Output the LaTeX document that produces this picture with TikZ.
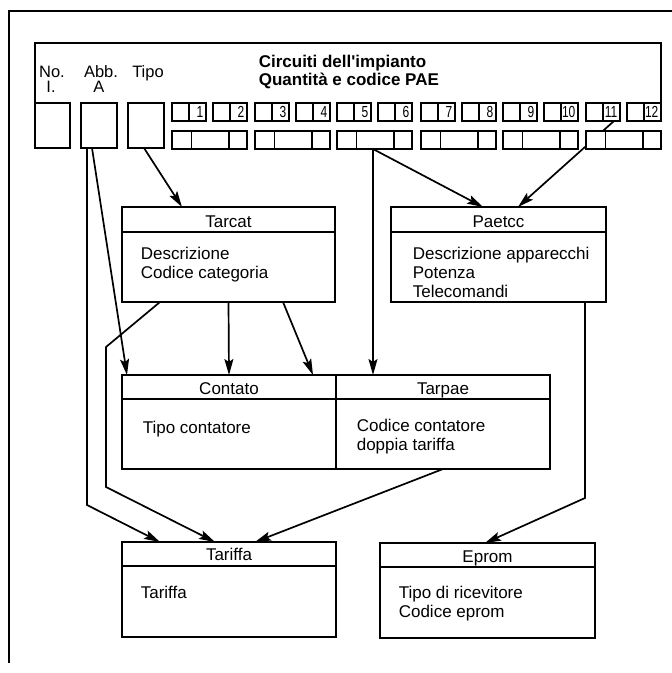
\documentclass[tikz,border=0pt]{standalone}
\usepackage{fontspec}
\setmainfont{Liberation Sans}
\newfontfamily\hv{Liberation Sans}
\usetikzlibrary{arrows.meta,calc}
\begin{document}
\begin{tikzpicture}[x=1pt,y=-1pt, line width=1.6pt,
  box/.style={draw, anchor=north west, inner sep=0pt, outer sep=0pt},
  lbl/.style={anchor=base west, inner sep=0pt, font=\fontsize{17}{19}\selectfont},
  ttl/.style={anchor=base, inner sep=0pt, font=\fontsize{17}{19}\selectfont},
  hdr/.style={anchor=base, inner sep=0pt, font=\fontsize{16.5}{16}\selectfont},
  num/.style={anchor=base east, inner sep=0pt, font=\fontsize{16}{16}\selectfont},
  arr/.style={-{Stealth[length=16pt,width=9pt,inset=3pt]}, line width=1.7pt}
]
\useasboundingbox (0,0) rectangle (672,673);
% outer frame (page)
\draw[line width=1.3pt] (9,663) -- (9,11) -- (672,11);

% left boxes
\node[box, minimum width=35pt, minimum height=45pt] (no) at (35,103) {};
\node[box, minimum width=36pt, minimum height=45pt] (abb) at (81,103) {};
\node[box, minimum width=36pt, minimum height=45pt] (tipo) at (128,103) {};

% upper numbered boxes
\foreach \s [count=\k from 0] in {172,255,337,421,503,586} {
  \pgfmathtruncatemacro\a{2*\k+1}
  \pgfmathtruncatemacro\b{2*\k+2}
  \node[box, minimum width=17pt, minimum height=18pt] (e\a) at (\s,103) {};
  \node[box, minimum width=17pt, minimum height=18pt] (n\a) at (\s+17,103) {};
  \node[box, minimum width=17pt, minimum height=18pt] (e\b) at (\s+41,103) {};
  \node[box, minimum width=17pt, minimum height=18pt] (n\b) at (\s+58,103) {};
  \node[num] at ($(n\a.south east)+(-1.8,-4)$) {\scalebox{0.75}[1]{\a}};
  \node[num] at ($(n\b.south east)+(-1.8,-4)$) {\scalebox{0.75}[1]{\b}};
}

% header frame
\draw (no.north west) -- ++(0,-60) -| (n12.north east);
\node[hdr] at (52,77) {No.};
\node[hdr] at (51,92) {I.};
\node[hdr] at (101,77) {Abb.};
\node[hdr] at (99,92) {A};
\node[hdr] at (148,77) {Tipo};
\node[anchor=base west, inner sep=0pt, font=\hv\bfseries\fontsize{17}{18}\selectfont] at (258,67) {Circuiti dell'impianto};
\node[anchor=base west, inner sep=0pt, font=\hv\bfseries\fontsize{17}{18}\selectfont] at (258,85) {Quantità e codice PAE};

% tables
\node[box, minimum width=213pt, minimum height=95pt] (tarcat) at (122,207) {};
\draw (tarcat.north west) ++(0,25) -- ++(213,0);
\node[ttl] at ($(tarcat.north)+(0,20)$) {Tarcat};
\node[lbl] at (140,259) {Descrizione};
\node[lbl] at (140,278) {Codice categoria};

\node[box, minimum width=215pt, minimum height=95pt] (paetcc) at (391,207) {};
\draw (paetcc.north west) ++(0,25) -- ++(215,0);
\node[ttl] at ($(paetcc.north)+(0,20)$) {Paetcc};
\node[lbl] at (412,259) {Descrizione apparecchi};
\node[lbl] at (412,278) {Potenza};
\node[lbl] at (412,297) {Telecomandi};

\node[box, minimum width=214pt, minimum height=94pt] (contato) at (122,375) {};
\node[box, minimum width=214pt, minimum height=94pt] (tarpae) at (336,375) {};
\draw (contato.north west) ++(0,24) -- ++(428,0);
\node[ttl] at ($(contato.north)+(0,19)$) {Contato};
\node[ttl] at ($(tarpae.north)+(0,19)$) {Tarpae};
\node[lbl] at (142,433) {Tipo contatore};
\node[lbl] at (356,431) {Codice contatore};
\node[lbl] at (356,450) {doppia tariffa};

\node[box, minimum width=214pt, minimum height=95pt] (tariffa) at (122,542) {};
\draw (tariffa.north west) ++(0,24) -- ++(214,0);
\node[ttl] at ($(tariffa.north)+(0,18)$) {Tariffa};
\node[lbl] at (140,598) {Tariffa};

\node[box, minimum width=215pt, minimum height=95pt] (eprom) at (380,543) {};
\draw (eprom.north west) ++(0,24) -- ++(215,0);
\node[ttl] at ($(eprom.north)+(0,19)$) {Eprom};
\node[lbl] at (398,598) {Tipo di ricevitore};
\node[lbl] at (398,617) {Codice eprom};

% connector from box 11 (passes under the lower box)
\draw[arr] ($(n11.south)+(2.5,0)$) -- ($(paetcc.north west)+(127,0)$);

% lower boxes
\foreach \s [count=\k] in {172,255,337,421,503,586} {
  \node[box, fill=white, minimum width=75pt, minimum height=18pt] (low\k) at (\s,131) {};
  \draw ($(low\k.north west)+(19.5,0)$) -- ($(low\k.south west)+(19.5,0)$);
  \draw ($(low\k.north west)+(57,0)$) -- ($(low\k.south west)+(57,0)$);
}

% connectors
\draw[arr] ($(tipo.south)+(-2,0)$) -- ($(tarcat.north west)+(60,0)$);
\draw[arr] ($(abb.south west)+(11,0)$) -- ($(contato.north west)+(5,0)$);
\draw[arr] ($(abb.south west)+(6,0)$) -- ++(0,357) -- ($(tariffa.north west)+(38,0)$);
\draw[arr] ($(tarcat.south west)+(38,0)$) -- ++(-54,45) -- ++(0,140) -- ($(tariffa.north west)+(93,0)$);
\draw[arr] (tarcat.south) -- (contato.north);
\draw[arr] ($(tarcat.south west)+(161,0)$) -- ($(contato.north west)+(191,0)$);
\draw[arr] ($(low3.south west)+(36,0)$) -- ($(tarpae.north west)+(37,0)$);
\draw[arr] ($(low3.south west)+(36,0)$) -- ($(paetcc.north west)+(92,0)$);
\draw[arr] ($(paetcc.south west)+(194,0)$) -- ++(0,196) -- ($(eprom.north west)+(105,0)$);
\draw[arr] ($(tarpae.south west)+(107,0)$) -- ($(tariffa.north west)+(133,0)$);
\end{tikzpicture}
\end{document}
